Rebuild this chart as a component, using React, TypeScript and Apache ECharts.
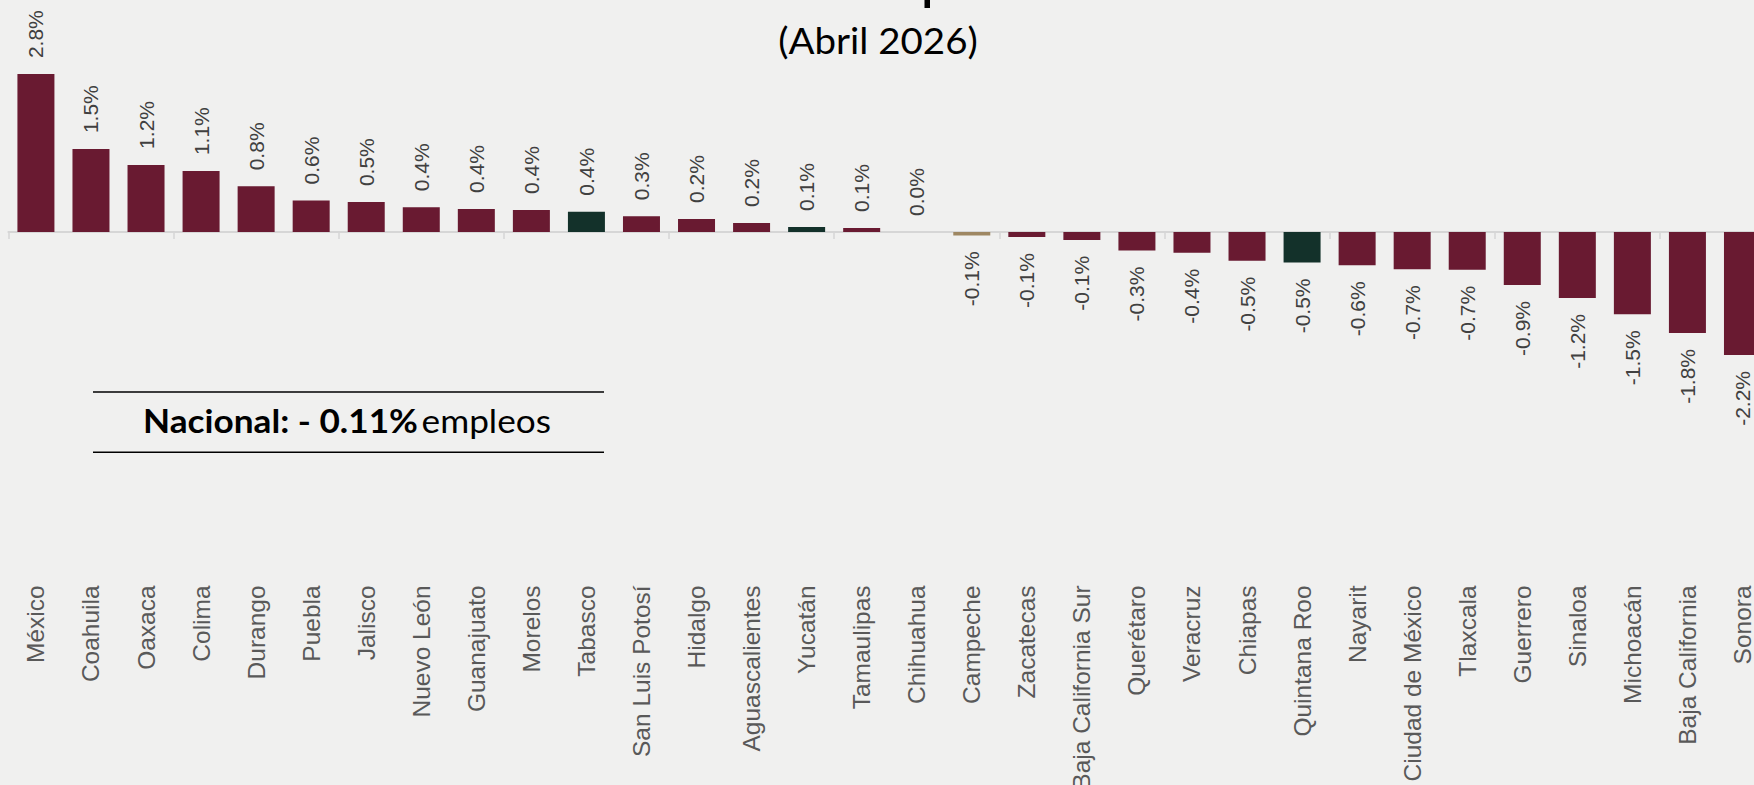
import React, { useEffect, useRef } from 'react';
import * as echarts from 'echarts';

const categories = [
  'México', 'Coahuila', 'Oaxaca', 'Colima', 'Durango', 'Puebla', 'Jalisco', 'Nuevo León',
  'Guanajuato', 'Morelos', 'Tabasco', 'San Luis Potosí', 'Hidalgo', 'Aguascalientes', 'Yucatán',
  'Tamaulipas', 'Chihuahua', 'Campeche', 'Zacatecas', 'Baja California Sur', 'Querétaro',
  'Veracruz', 'Chiapas', 'Quintana Roo', 'Nayarit', 'Ciudad de México', 'Tlaxcala', 'Guerrero',
  'Sinaloa', 'Michoacán', 'Baja California', 'Sonora',
];

const values = [
  2.80, 1.47, 1.19, 1.08, 0.81, 0.56, 0.53, 0.44,
  0.41, 0.39, 0.36, 0.28, 0.23, 0.16, 0.09,
  0.07, 0.0, -0.06, -0.09, -0.14, -0.33,
  -0.37, -0.51, -0.54, -0.59, -0.66, -0.67, -0.94,
  -1.17, -1.46, -1.79, -2.18,
];

const greenStates = ['Tabasco', 'Yucatán', 'Quintana Roo'];
const goldStates = ['Campeche'];

const subtitle = '(Abril 2026)';
const nationalLabel = 'Nacional: - 0.11%';
const nationalUnit = 'empleos';

const MAROON = '#691a31';
const GREEN = '#13312a';
const GOLD = '#9e8762';

export default function App() {
  const ref = useRef<HTMLDivElement>(null);

  useEffect(() => {
    document.body.style.margin = '0';
    const chart = echarts.init(ref.current!, null, { renderer: 'svg' });

    const data = values.map((v, i) => {
      const name = categories[i];
      const color = greenStates.includes(name) ? GREEN : goldStates.includes(name) ? GOLD : MAROON;
      return {
        value: v,
        itemStyle: { color },
        label: v < 0
          ? { position: 'bottom', align: 'right' }
          : { position: 'top', align: 'left' },
      };
    });

    chart.setOption({
      animation: false,
      backgroundColor: '#f0f0ef',
      grid: {
        left: 8.4,
        top: 62.8,
        width: 1761.6,
        height: 507.6,
        containLabel: false,
        outerBoundsMode: 'none',
      },
      xAxis: [
        {
          type: 'category',
          data: categories,
          position: 'bottom',
          axisLine: { show: false, onZero: false },
          axisTick: { show: false },
          axisLabel: {
            show: true,
            interval: 0,
            rotate: 90,
            margin: 15,
            fontSize: 24.5,
            fontFamily: 'Liberation Sans',
            color: '#595959',
          },
        },
        {
          type: 'category',
          data: categories,
          position: 'bottom',
          axisLine: { show: true, onZero: true, lineStyle: { color: '#d6d6d6', width: 2 } },
          axisTick: { show: true, length: 7, lineStyle: { color: '#d6d6d6', width: 1.5 } },
          axisLabel: { show: false },
        },
      ],
      yAxis: { type: 'value', min: -6, max: 3, show: false, splitLine: { show: false } },
      series: [
        {
          type: 'bar',
          xAxisIndex: 0,
          barWidth: 37,
          data,
          label: {
            show: true,
            rotate: 90,
            verticalAlign: 'middle',
            distance: 16,
            fontSize: 21,
            fontFamily: 'Liberation Sans',
            color: '#404040',
            formatter: (p: any) => Number(p.value).toFixed(1) + '%',
          },
        },
      ],
      graphic: [
        { type: 'rect', shape: { x: 924.5, y: 0, width: 5.5, height: 8 }, style: { fill: '#000' } },
        {
          type: 'text',
          x: 878,
          y: 40,
          scaleX: 1.04,
          style: {
            text: subtitle,
            fontSize: 37,
            fontFamily: 'Lato',
            fill: '#000',
            align: 'center',
            verticalAlign: 'middle',
          },
        },
        { type: 'line', shape: { x1: 93, y1: 392, x2: 604, y2: 392 }, style: { stroke: '#000', lineWidth: 1.5 } },
        { type: 'line', shape: { x1: 93, y1: 452.3, x2: 604, y2: 452.3 }, style: { stroke: '#000', lineWidth: 1.5 } },
        {
          type: 'text',
          x: 347,
          y: 421,
          scaleX: 1.1,
          style: {
            text: `{b|${nationalLabel}} {r|${nationalUnit}}`,
            align: 'center',
            verticalAlign: 'middle',
            rich: {
              b: { fontSize: 32, fontFamily: 'Lato', fontWeight: 'bold', fill: '#000' },
              r: { fontSize: 32, fontFamily: 'Lato', fill: '#000' },
            },
          },
        },
      ],
    });

    return () => chart.dispose();
  }, []);

  return <div ref={ref} style={{ width: 1754, height: 785 }} />;
}
